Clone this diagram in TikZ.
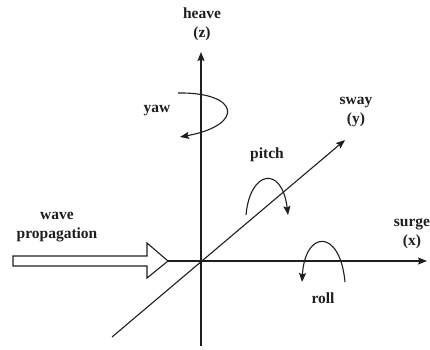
\documentclass[tikz,border=0pt]{standalone}
\usepackage{fontspec}
\setmainfont{Liberation Serif}
\usetikzlibrary{arrows.meta, positioning, calc}
\definecolor{cink}{HTML}{1E1E1E}
\tikzset{
  every picture/.style={line width=1.1pt, color=cink},
  axis/.style={-{Stealth[length=9pt, width=7pt, inset=1.5pt]}, draw=cink},
  turn/.style={-{Stealth[length=9pt, width=7pt, inset=1.5pt]}, draw=cink},
  lbl/.style={font=\fontsize{15.5}{19}\selectfont\bfseries, text=cink, align=center, inner sep=0pt},
  wavearrow/.style={draw=cink, fill=white, line width=1.1pt, line join=miter},
}

\begin{document}
\begin{tikzpicture}[x=1pt, y=-1pt]
  \useasboundingbox (0,0) rectangle (430,349);
  \coordinate (origin) at (201,261);
  \coordinate (zbot) at (201,346);
  \coordinate (ztop) at (201,52);
  \coordinate (ybot) at (112,337);
  \coordinate (ytop) at (345,140);
  \coordinate (xbeg) at (168,261);
  \coordinate (xtop) at (427,261);
  \node[lbl] (heave) at (202,24) {heave\\(z)};
  \node[lbl] (sway) at (356,112) {sway\\(y)};
  \node[lbl] (surge) at (412,234) {surge\\(x)};
  \node[lbl] (wave) at (57,227) {wave\\propagation};
  \node[lbl] (yaw) at (157,111) {yaw};
  \node[lbl] (pitch) at (267,155) {pitch};
  \node[lbl] (roll) at (323,298) {roll};
  \draw[axis] (zbot) -- (ztop);
  \draw[axis] (ybot) -- (ytop);
  \draw[axis] (xbeg) -- (xtop);
  \draw[wavearrow] (13,256) -- (147,256) -- (147,243) -- (xbeg) -- (147,278) -- (147,266) -- (13,266) -- cycle;
  \draw[turn] (178,93) .. controls (240,92) and (245,125) .. (180,137);
  \draw[turn] (246,215) .. controls (250,170) and (282,165) .. (288,215);
  \draw[turn] (345,282) .. controls (340,228) and (305,230) .. (302,282);
\end{tikzpicture}
\end{document}
